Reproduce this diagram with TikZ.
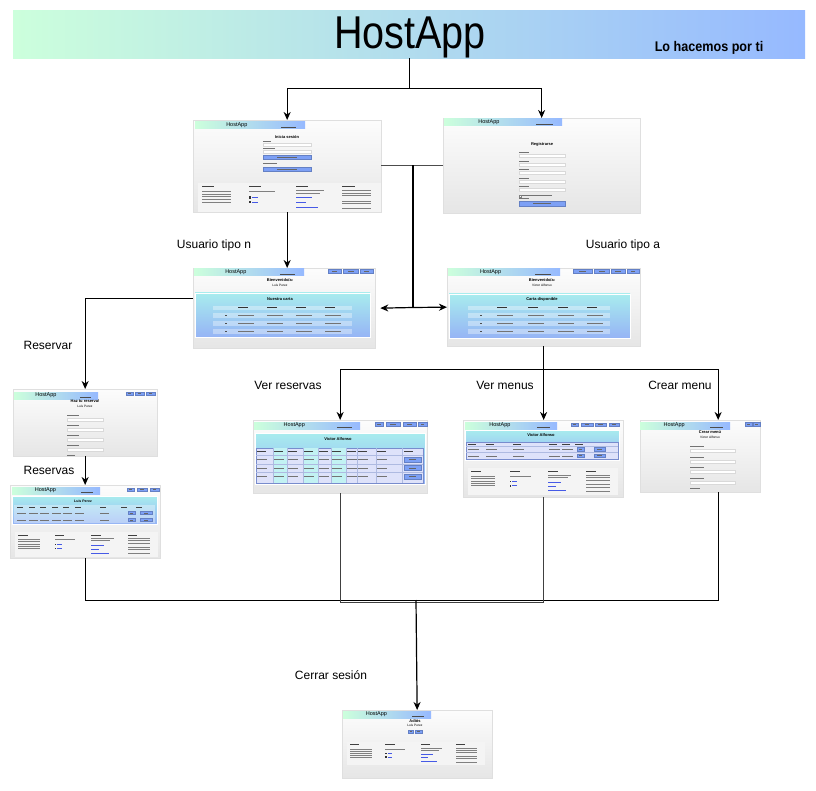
\documentclass[tikz,border=0pt]{standalone}
\usepackage{fontspec}
\setmainfont{Liberation Sans}
\usetikzlibrary{arrows.meta,positioning}
\definecolor{hostmint}{RGB}{204,255,220}
\definecolor{hostblue}{RGB}{150,185,255}
\definecolor{panelcyan}{RGB}{168,236,238}
\definecolor{panelblue}{RGB}{150,180,245}
\definecolor{btnblue}{RGB}{125,160,245}
\definecolor{linkblue}{RGB}{70,90,230}
\definecolor{lavender}{RGB}{222,226,250}
\definecolor{tableline}{RGB}{120,140,205}

% small helpers for the screenshot thumbnails
\newcommand{\tb}[3]{\fill[black!55] (#1,#2) rectangle ++(#3,0.9);}
\newcommand{\field}[3]{\filldraw[fill=white,draw=gray!30,line width=0.2pt] (#1,#2) rectangle ++(#3,3);}
\newcommand{\btn}[4]{%
  \filldraw[fill=btnblue,draw=btnblue!80!black,line width=0.2pt] (#1,#2) rectangle ++(#3,#4);
  \fill[black!60] (#1+0.3*#3,#2+0.5*#4-0.35) rectangle ++(0.4*#3,0.7);}
\newcommand{\thumbhead}[4]{%
  \fill[left color=hostmint,right color=hostblue] (#1,#2) rectangle ++(#3,7);
  \node[font=\fontsize{5.5}{6}\selectfont,inner sep=0] (#4) at (#1+0.38*#3,#2+3.5) {HostApp};
  \fill[black!70] (#1+0.78*#3,#2+4.6) rectangle ++(0.14*#3,0.9);}
\newcommand{\thumbfoot}[4]{%
  \begin{scope}[shift={(#1,#2)},xscale=#3/180,yscale=#4/28]
    \fill[gray!9] (0,0) rectangle (180,28);
    \foreach \cx in {4,50,96,142}
      \fill[black!75] (\cx,3) rectangle ++(12,1.2);
    \foreach \ly in {8,10.5,13,15.5,18}
      \fill[black!50] (4,\ly) rectangle ++(28,0.9);
    \fill[black!50] (50,8) rectangle ++(26,0.9);
    \foreach \ly in {13,17.5}{
      \fill[black!80] (50,\ly) rectangle ++(2,2);
      \fill[linkblue] (53,\ly+0.6) rectangle ++(6,0.9);}
    \fill[black!50] (96,7) rectangle ++(28,0.9);
    \fill[black!50] (96,9.5) rectangle ++(24,0.9);
    \foreach \ly/\lw in {14/16,18.5/10,23/22}
      \fill[linkblue] (96,\ly) rectangle ++(\lw,0.9);
    \foreach \ly in {7,9.5,12,17,19.5,24}
      \fill[black!50] (142,\ly) rectangle ++(28,0.9);
  \end{scope}}

\begin{document}
\begin{tikzpicture}[x=1pt,y=-1pt,
    shot/.style={draw=gray!25,line width=0.3pt,top color=gray!2,bottom color=gray!20,inner sep=0,anchor=north west},
    panel/.style={top color=panelcyan,bottom color=panelblue,draw=white,line width=0.8pt},
    ttl/.style={font=\fontsize{4}{5}\selectfont\bfseries,inner sep=0},
    sub/.style={font=\fontsize{3.2}{4}\selectfont,inner sep=0},
    lbl/.style={font=\fontsize{12}{14}\selectfont,inner sep=0},
    conn/.style={line width=1.2pt},
    arr/.style={conn,-{Stealth[length=8pt,width=7pt,inset=2.5pt]}},
]
\useasboundingbox (0,0) rectangle (816,791);

% Title bar
\node[left color=hostmint,right color=hostblue,inner sep=0,anchor=north west,minimum width=792pt,minimum height=48pt] (title) at (13,10) {};
\node[font=\fontsize{46}{50}\selectfont,xscale=0.86,anchor=base,inner sep=0] (titletext) at (410,49) {HostApp};
\node[font=\fontsize{14}{16}\selectfont\bfseries,xscale=0.9,anchor=base,inner sep=0] (tagline) at (709,52) {Lo hacemos por ti};

% Screens
\node[shot,minimum width=188pt,minimum height=92pt] (login) at (193,120) {};
\node[shot,minimum width=197pt,minimum height=95pt] (register) at (443,118) {};
\node[shot,minimum width=182pt,minimum height=80pt] (usern) at (193,268) {};
\node[shot,minimum width=193pt,minimum height=78pt] (usera) at (447,268) {};
\node[shot,minimum width=144pt,minimum height=67pt] (reservar) at (13,389) {};
\node[shot,minimum width=150pt,minimum height=73pt] (reservas) at (10,485) {};
\node[shot,minimum width=174pt,minimum height=73pt] (verres) at (253,420) {};
\node[shot,minimum width=160pt,minimum height=77pt] (vermen) at (463,420) {};
\node[shot,minimum width=120pt,minimum height=72pt] (crear) at (640,420) {};
\node[shot,minimum width=150pt,minimum height=68pt] (cerrar) at (342,710) {};

% Login screen
\begin{scope}[shift={(193,120)}]
  \thumbhead{2}{2}{110}{login-h}
  \node[ttl] (login-t) at (94,17) {Inicia sesión};
  \tb{70}{21}{8} \field{70}{23}{48}
  \tb{70}{28}{12} \field{70}{30}{48}
  \btn{70}{35}{48}{4}
  \tb{70}{43}{14}
  \btn{70}{47}{48}{4}
  \thumbfoot{5}{63}{183}{29}
\end{scope}

% Register screen
\begin{scope}[shift={(443,118)}]
  \thumbhead{1}{1}{118}{reg-h}
  \node[ttl] (reg-t) at (99,26) {Registrarse};
  \foreach \ry in {34,43,51,60,68}{\tb{76}{\ry}{10} \field{76}{\ry+2}{46}}
  \filldraw[fill=white,draw=gray,line width=0.2pt] (76,77) rectangle ++(2,2);
  \tb{79}{77.5}{30} \tb{76}{80}{10}
  \btn{76}{83}{46}{5}
\end{scope}

% Welcome screen, user n
\begin{scope}[shift={(193,268)}]
  \thumbhead{1}{1}{110}{usern-h}
  \btn{135}{1.5}{13}{4} \btn{150}{1.5}{15}{4} \btn{167}{1.5}{13}{4}
  \node[ttl] (usern-t) at (87,12) {Bienvenido/a:};
  \node[sub] (usern-s) at (87,17) {Luis Perez};
  \path[panel] (2,25) rectangle (177,69);
  \node[ttl] (usern-c) at (87,31) {Nuestra carta};
  \fill[white,fill opacity=0.35] (20,38) rectangle (159,42);
  \foreach \cx in {45,74,103,132} {\fill[black!80] (\cx,39.5) rectangle ++(10,1);}
  \foreach \ry in {45,53,61}{
    \fill[white,fill opacity=0.35] (20,\ry) rectangle ++(139,5);
    \fill[black!70] (32,\ry+2) rectangle ++(1.5,1);
    \foreach \cx in {45,74,103,132} {\tb{\cx}{\ry+1.8}{16}}}
\end{scope}

% Welcome screen, user a
\begin{scope}[shift={(447,268)}]
  \thumbhead{1}{1}{112}{usera-h}
  \btn{126}{1.5}{19}{4} \btn{147}{1.5}{15}{4} \btn{164}{1.5}{14}{4} \btn{180}{1.5}{12}{4}
  \node[ttl] (usera-t) at (95,12) {Bienvenido/a:};
  \node[sub] (usera-s) at (95,17) {Victor Alfonso};
  \path[panel] (2,26) rectangle (183,70);
  \node[ttl] (usera-c) at (95,31) {Carta disponible};
  \fill[white,fill opacity=0.35] (21,38) rectangle (163,42);
  \foreach \cx in {50,81,111,140} {\fill[black!80] (\cx,39.5) rectangle ++(10,1);}
  \foreach \ry in {45,53,61}{
    \fill[white,fill opacity=0.35] (21,\ry) rectangle ++(142,5);
    \fill[black!70] (33,\ry+2) rectangle ++(1.5,1);
    \foreach \cx in {50,81,111,140} {\tb{\cx}{\ry+1.8}{16}}}
\end{scope}

% Reservation form
\begin{scope}[shift={(13,389)}]
  \thumbhead{1}{3}{84}{reservar-h}
  \btn{113}{3}{7}{3.5} \btn{122}{3}{9}{3.5} \btn{133}{3}{9}{3.5}
  \node[ttl] (reservar-t) at (72,12) {Haz tu reserva!};
  \node[sub] (reservar-s) at (72,17) {Luis Perez};
  \foreach \ry in {26,36,46,56}{\tb{54}{\ry}{12} \field{54}{\ry+3}{36}}
  \tb{54}{66}{8}
\end{scope}

% Reservation list
\begin{scope}[shift={(10,485)}]
  \thumbhead{2}{2}{88}{reservas-h}
  \btn{117}{3}{7}{3.5} \btn{127}{3}{10}{3.5} \btn{140}{3}{9}{3.5}
  \path[panel] (2,11) rectangle (147,39);
  \node[sub,font=\fontsize{3.5}{4}\selectfont\bfseries] (reservas-t) at (73,16) {Luis Perez};
  \fill[white,fill opacity=0.35] (4,20) rectangle (145,38);
  \foreach \cx in {7,19,30,42,53,65,90,111,126} {\fill[black!75] (\cx,22) rectangle ++(6,0.9);}
  \foreach \ry in {28,35}{
    \foreach \cx in {7,19,30,42,53,65,90} {\tb{\cx}{\ry-0.4}{9}}
    \btn{118}{\ry-1.5}{7}{3} \btn{130}{\ry-1.5}{12}{3}}
  \thumbfoot{5}{47}{143}{25}
\end{scope}

% Reservations seen by user a
\begin{scope}[shift={(253,420)}]
  \thumbhead{1}{2}{106}{verres-h}
  \btn{122}{2.5}{8}{3.5} \btn{133}{2.5}{14}{3.5} \btn{150}{2.5}{13}{3.5} \btn{165}{2.5}{9}{3.5}
  \path[panel] (2,13) rectangle (172,64);
  \node[ttl] (verres-t) at (85,19) {Victor Alfonso};
  \filldraw[fill=lavender,draw=tableline,line width=0.6pt] (3,28) rectangle (170,63);
  \foreach \cl/\cr in {20/34,50/65,78/93} {\fill[panelcyan!70] (\cl,28.3) rectangle (\cr,62.7);}
  \foreach \cx in {20,34,50,65,78,93,104,123,149} {\draw[tableline!60,line width=0.3pt] (\cx,28) -- (\cx,63);}
  \foreach \ry in {35.5,44,52.5} {\draw[tableline!60,line width=0.3pt] (3,\ry) -- (170,\ry);}
  \foreach \cx in {4,21,35,51,66,79,94,105,124,151} {\fill[black!75] (\cx,30.5) rectangle ++(9,0.9);}
  \foreach \ry in {39,47.5,56}{
    \foreach \cx in {4,21,35,51,66,79,94,105,124} {\tb{\cx}{\ry}{10}}
    \btn{151}{\ry-2}{17}{5}}
\end{scope}

% Menus seen by user a
\begin{scope}[shift={(463,420)}]
  \thumbhead{2}{2}{92}{vermen-h}
  \btn{108}{3}{7}{3.5} \btn{118}{3}{12}{3.5} \btn{132}{3}{11}{3.5} \btn{146}{3}{10}{3.5}
  \path[panel] (2,10) rectangle (156,40);
  \node[ttl] (vermen-t) at (78,15) {Victor Alfonso};
  \filldraw[fill=lavender,draw=tableline,line width=0.5pt] (3,22) rectangle (155,39);
  \draw[tableline!60,line width=0.3pt] (3,26.5) -- (155,26.5);
  \draw[tableline!60,line width=0.3pt] (3,32.5) -- (155,32.5);
  \foreach \cx in {5,23,50,86,99,112} {\fill[black!75] (\cx,23.8) rectangle ++(8,0.9);}
  \foreach \ry in {29,35.5}{
    \foreach \cx in {5,23,50,86,99} {\tb{\cx}{\ry}{11}}
    \btn{114}{\ry-1.5}{7}{3.5} \btn{131}{\ry-1.5}{11}{3.5}}
  \thumbfoot{5}{48}{150}{27}
\end{scope}

% New menu form
\begin{scope}[shift={(640,420)}]
  \thumbhead{0}{2}{90}{crear-h}
  \btn{105}{2.5}{7}{3.5} \btn{113}{2.5}{7}{3.5}
  \node[ttl] (crear-t) at (70,12) {Crear menú};
  \node[sub] (crear-s) at (70,17) {Victor Alfonso};
  \foreach \ry in {26,37,47,58}{\tb{50}{\ry}{14} \field{50}{\ry+3}{45}}
  \tb{50}{68}{10}
\end{scope}

% Logout screen
\begin{scope}[shift={(342,710)}]
  \thumbhead{1}{1}{88}{cerrar-h}
  \node[ttl] (cerrar-t) at (73,11) {Adiós};
  \node[sub] (cerrar-s) at (73,15.5) {Luis Perez};
  \btn{66}{20}{5}{3} \btn{73}{20}{7}{3}
  \thumbfoot{5}{32}{138}{23}
\end{scope}

% Connections
\draw[arr] (title.south) -- ++(0,30) -| (login.north);
\draw[arr] (title.south) -- ++(0,30) -| (register.north);
\draw[arr] (login.south) -- (login.south |- usern.north);
\draw[black!70,line width=1pt] (register.west) -- (login.east |- register.west);
\coordinate (hub) at (413,165.5);
\coordinate (hubdown) at (413,307.5);
\draw[line width=2pt] (hub) -- (hubdown);
\draw[arr] (hubdown) -- ([xshift=5pt]usern.east);
\draw[arr] (hubdown) -- (usera.west);
\draw[arr] ([yshift=10pt]usern.west) -| (reservar.north);
\draw[arr] (reservar.south) -- (reservas.north);
\draw[arr] (usera.south) -- ++(0,23) -| (verres.north);
\draw[arr] (usera.south) -- ++(0,23) -| ([xshift=18pt]crear.north);
\draw[arr] (usera.south) -- (usera.south |- vermen.north);
\draw[conn] (reservas.south) -- ++(0,42) -| ([xshift=18pt]crear.south);
\draw[black!75,line width=1pt] (verres.south) -- ++(0,109) -| (vermen.south);
\coordinate (logout) at (416,600);
\draw[arr] (logout) -- (cerrar.north);

% Labels
\node[lbl] (lbl-n) at (214,245) {Usuario tipo n};
\node[lbl] (lbl-a) at (623,245) {Usuario tipo a};
\node[lbl] (lbl-reservar) at (48,345) {Reservar};
\node[lbl] (lbl-reservas) at (49,470) {Reservas};
\node[lbl] (lbl-verres) at (288,385) {Ver reservas};
\node[lbl] (lbl-vermen) at (505,385) {Ver menus};
\node[lbl] (lbl-crear) at (680,385) {Crear menu};
\node[lbl] (lbl-cerrar) at (331,675) {Cerrar sesión};

\end{tikzpicture}
\end{document}
